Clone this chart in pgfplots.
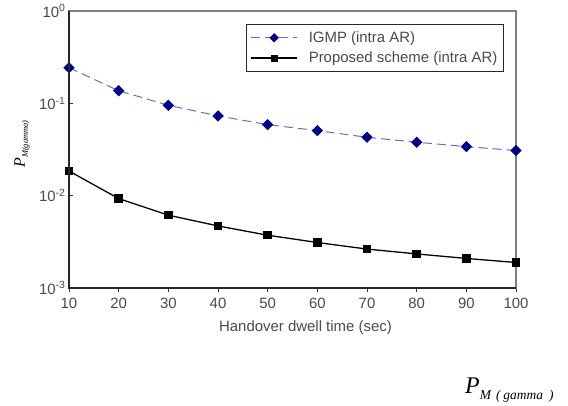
\documentclass[border=0pt]{standalone}
\usepackage{fontspec}
\setmainfont{Liberation Sans}
\newfontfamily\timesfont{Liberation Serif}
\usepackage{pgfplots}
\pgfplotsset{compat=1.18}
\definecolor{txtgray}{HTML}{4A4A4A}
\definecolor{igmpline}{HTML}{6A6AC8}
\definecolor{igmpmark}{HTML}{000088}
\definecolor{boxgray}{HTML}{808080}
\newcommand{\tfont}{\fontsize{15}{17}\selectfont}

\begin{document}
\begin{tikzpicture}[x=1bp,y=1bp]
\path[use as bounding box] (0,0) rectangle (568,405);
\begin{axis}[
    at={(69bp,117bp)}, anchor=south west,
    scale only axis, width=447bp, height=277bp,
    /pgf/number format/assume math mode=true,
    ymode=log, xmin=10, xmax=100, ymin=1e-3, ymax=1,
    xtick={10,20,...,100},
    ytick={1e-3,1e-2,1e-1,1},
    yticklabels={10\textsuperscript{-3},10\textsuperscript{-2},10\textsuperscript{-1},10\textsuperscript{0}},
    yminorticks=false,
    xtick pos=lower, ytick pos=left,
    xtick align=outside, ytick align=inside,
    major tick length=4bp,
    tick style={line width=0.8bp, color=black!80},
    axis line style={draw=boxgray, line width=1.2bp},
    tick label style={font=\tfont, text=txtgray},
    xticklabel style={yshift=-3bp},
    xlabel={Handover dwell time (sec)},
    xlabel style={font=\tfont, text=txtgray, xshift=13bp, yshift=-5bp},
    ylabel={{\timesfont\fontsize{16}{16}\selectfont\itshape P}\raisebox{-3bp}{\timesfont\fontsize{8.5}{9}\selectfont\itshape M(gamma)}},
    ylabel style={at={(axis description cs:-0.105,0.52)}, anchor=center},
    legend style={at={(axis description cs:0.973,0.953)}, anchor=north east,
        draw=black!85, line width=1.2bp, font=\tfont, text=txtgray,
        inner xsep=4bp, inner ysep=5bp, row sep=4bp, cells={anchor=west}},
    legend image code/.code={\draw[mark repeat=2,mark phase=2,#1,mark size=2.8bp] plot coordinates {(0bp,0bp) (23bp,0bp) (46bp,0bp)}; \path (55bp,0bp);},
    after end axis/.code={
        \draw[black!85, line width=2bp] (rel axis cs:0,1) -- (rel axis cs:0,0) -- (rel axis cs:1,0);
    },
]
\addplot[igmpline, line width=1bp, dash pattern=on 9bp off 5bp,
    mark=square*, mark size=3.5bp,
    mark options={solid, rotate=45, fill=igmpmark, draw=igmpmark}]
    coordinates {(10,0.243) (20,0.137) (30,0.0953) (40,0.0731) (50,0.0588)
                 (60,0.0506) (70,0.0429) (80,0.0379) (90,0.0340) (100,0.0308)};
\addplot[black, line width=1.3bp, mark=square*, mark size=3.6bp,
    mark options={solid, fill=black}]
    coordinates {(10,0.0185) (20,0.0093) (30,0.00615) (40,0.0047) (50,0.00373)
                 (60,0.00311) (70,0.00264) (80,0.00234) (90,0.00209) (100,0.00189)};
\legend{IGMP (intra AR), Proposed scheme (intra AR)}
\end{axis}
\node[anchor=base west, inner sep=0] at (465,12)
    {{\timesfont\fontsize{24}{24}\selectfont\itshape P}\raisebox{-6bp}{\timesfont\fontsize{13.5}{14}\selectfont\itshape M\hspace{5bp}(\hspace{3bp}gamma\hspace{6bp})}};
\end{tikzpicture}
\end{document}
